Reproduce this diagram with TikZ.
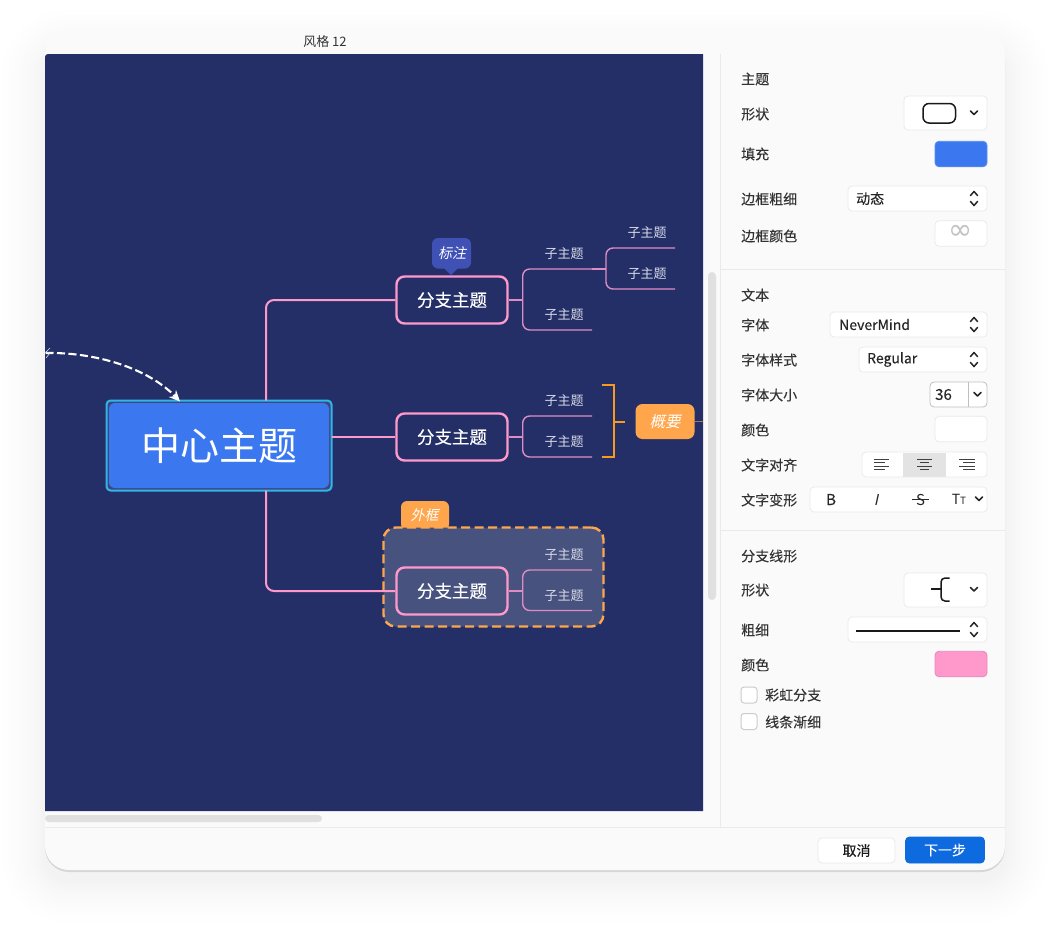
\documentclass[tikz,border=0pt]{standalone}
\usepackage{fontspec}
\setmainfont{Noto Sans CJK SC}
\newfontfamily\slantfont[FakeSlant=0.22]{Noto Sans CJK SC}
\newfontfamily\medfont[FakeBold=0.35]{Noto Sans CJK SC}
\newfontfamily\labfont[FakeBold=0.12]{Noto Sans CJK SC}
\newfontfamily\symfont{DejaVu Sans}
\usetikzlibrary{arrows.meta}

\definecolor{canvasbg}{HTML}{232F66}
\definecolor{panelbg}{HTML}{FAFAFA}
\definecolor{rule}{HTML}{EAEAEA}
\definecolor{thumb}{HTML}{E0E0E0}
\definecolor{ink}{HTML}{333333}
\definecolor{topicblue}{HTML}{3B78F0}
\definecolor{pinkline}{HTML}{FF99CC}
\definecolor{subpink}{HTML}{E08CC4}
\definecolor{selblue}{HTML}{2FB5EE}
\definecolor{orangeA}{HTML}{FFA64D}
\definecolor{orangeB}{HTML}{F79A1E}
\definecolor{calloutbg}{HTML}{3F51B5}
\definecolor{boundbg}{HTML}{47527F}
\definecolor{leafink}{HTML}{D9DBE8}
\definecolor{nextblue}{HTML}{0E6ADF}

\newcommand{\fs}[1]{\fontsize{#1}{#1}\selectfont}

\tikzset{
  central/.style={rectangle, rounded corners=6pt, fill=topicblue, text=white, minimum width=220pt, minimum height=85pt, inner sep=0pt, outer sep=0pt, font=\fs{39}},
  centralsel/.style={rectangle, rounded corners=4pt, draw=selblue, line width=2pt, fill=canvasbg!88!white, minimum width=225pt, minimum height=90pt, inner sep=0pt, outer sep=0pt},
  branch/.style={rectangle, rounded corners=8pt, draw=pinkline, line width=2.4pt, fill=canvasbg, text=white, minimum width=111pt, minimum height=47pt, inner sep=0pt, outer sep=1.2pt, font=\medfont\fs{17.5}},
  leaf/.style={rectangle, text=leafink, minimum width=56pt, minimum height=30pt, inner sep=0pt, outer sep=0pt, font=\fs{13}},
  bline/.style={pinkline, line width=2pt, rounded corners=8pt},
  sline/.style={subpink, line width=1.4pt, rounded corners=7pt},
  tag/.style={text=white, inner sep=0pt, font=\slantfont\fs{14}},
  lab/.style={anchor=west, text=ink, inner sep=0pt, font=\labfont\fs{14}},
  ctrl/.style={rectangle, rounded corners=4pt, draw=rule, line width=.8pt, fill=white, inner sep=0pt, outer sep=0pt, text=black!85, font=\labfont\fs{14}},
  swatch/.style={ctrl, minimum width=52pt, minimum height=25.5pt},
  tick/.style={draw=black!85, line width=1.5pt, line cap=round, line join=round},
  chevdown/.pic={\draw [tick] (-3.5,-2) -- (0,1.5) -- (3.5,-2);},
  updown/.pic={
    \draw [tick] (-3.5,-3) -- (0,-7) -- (3.5,-3);
    \draw [tick] (-3.5,3) -- (0,7) -- (3.5,3);
  },
}

\begin{document}
\begin{tikzpicture}[x=1pt, y=-1pt]
\useasboundingbox (0,0) rectangle (1050,930);
\fill [white] (0,0) rectangle (1050,930);

% soft shadow round the window
\foreach \r in {2,4,6,9,12,15,19,23,27,32,37,43} {
  \fill [black, opacity=.0045, rounded corners=24+\r] (45-\r,52-\r) rectangle (1005+\r,880+\r);
}

% window
\fill [black!16, rounded corners=24pt] (45,34) rectangle (1005,872);
\fill [panelbg, rounded corners=24pt] (45,30) rectangle (1005,870);
\fill [canvasbg] (45,811) [rounded corners=3pt] -- (45,54) [sharp corners] -- (703,54) -- (703,811) -- cycle;
\fill [thumb, rounded corners=3.5pt] (45,815) rectangle (322,822);
\fill [thumb, rounded corners=4pt] (708,272) rectangle (716,600);
\draw [rule, line width=1pt] (45,827) -- (1005,827);
\draw [rule, line width=1pt] (720,54) -- (720,827);
\draw [rule, line width=1pt] (720,269) -- (1005,269);
\draw [rule, line width=1pt] (720,530) -- (1005,530);

\node [text=ink, inner sep=0pt, font=\fs{13}] (title) at (325,42) {风格 12};

% boundary behind the third branch
\fill [orangeA, rounded corners=6pt] (401,530) -- (401,501) -- (449,501) -- (449,530) -- cycle;
\node [tag] (boundtag) at (424.5,515) {外框};
\node [rectangle, rounded corners=12pt, draw=orangeA, line width=2.4pt, dash pattern=on 9pt off 4.5pt, fill=boundbg, minimum width=220pt, minimum height=99pt, inner sep=0pt] (bound) at (493.5,577) {};

% topics
\node [centralsel] (centralSel) at (219,445.5) {};
\node [central] (centre) at (219,445.5) {中心主题};
\node [branch] (branchA) at (452,300) {分支主题};
\node [branch] (branchB) at (452,437) {分支主题};
\node [branch, fill=boundbg] (branchC) at (452,591) {分支主题};

\node [leaf] (leafA) at (564,254) {子主题};
\node [leaf] (leafB) at (564,315) {子主题};
\node [leaf] (leafAa) at (647,233) {子主题};
\node [leaf] (leafAb) at (647,274) {子主题};
\node [leaf] (leafC) at (564,401) {子主题};
\node [leaf] (leafD) at (564,442) {子主题};
\node [leaf] (leafE) at (564,555) {子主题};
\node [leaf] (leafF) at (564,595.5) {子主题};

% connectors
\draw [bline] ([xshift=47pt]centralSel.north) |- (branchA.west);
\draw [bline] (centralSel.east |- branchB.west) -- (branchB.west);
\draw [bline] ([xshift=47pt]centralSel.south) |- (branchC.west);

\coordinate (forkA) at ([xshift=14pt]branchA.east);
\coordinate (forkB) at ([xshift=14pt]branchB.east);
\coordinate (forkC) at ([xshift=14pt]branchC.east);
\coordinate (forkD) at ([xshift=14pt]leafA.south east);

\draw [sline] (branchA.east) -- (forkA);
\draw [sline] (leafA.south east) -| (forkA) |- (leafB.south east);
\draw [sline] (leafA.south east) -- (forkD);
\draw [sline] (leafAa.south east) -| (forkD) |- (leafAb.south east);

\draw [sline] (branchB.east) -- (forkB);
\draw [sline] (leafC.south east) -| (forkB) |- (leafD.south east);

\draw [sline] (branchC.east) -- (forkC);
\draw [sline] (leafE.south east) -| (forkC) |- (leafF.south east);

% callout
\fill [calloutbg, rounded corners=6pt] (432,238) rectangle (471,268.5);
\fill [calloutbg] (444,268) -- (451,275) -- (458,268) -- cycle;
\node [tag] (callout) at (452,253) {标注};

% summary
\node [rectangle, rounded corners=7pt, fill=orangeA, minimum width=59pt, minimum height=35pt, inner sep=0pt, outer sep=0pt, text=white, font=\slantfont\fs{15.5}] (summary) at (665,421.5) {概要};
\coordinate (summaryEnd) at (703,421.5);
\draw [orangeA!60!canvasbg, line width=1.4pt] (summary.east) -- (summaryEnd);
\coordinate (braceMid) at (625,421.5);
\draw [orangeB, line width=2pt] (602,384.5) -- (613.5,384.5) -- (613.5,457) -- (602,457);
\draw [orangeB, line width=2pt] (613.5,421.5) -- (braceMid);

% relation
\coordinate (relStart) at (45.5,353);
\draw [white, line width=2.1pt, dash pattern=on 8pt off 3.5pt, -{Stealth[length=11pt, width=10pt]}] (relStart) .. controls (95,352) and (148,368) .. ([xshift=-39pt,yshift=-1pt]centralSel.north);
\draw [white!85!canvasbg, line width=.6pt] (50,348) -- (46,352) -- (50,353) -- (46,358);

% panel: topic
\node [lab] (hTopic) at (741,79) {主题};
\node [lab] (lShape) at (741,114) {形状};
\node [ctrl, minimum width=83pt, minimum height=34pt] (shapeBox) at (945.5,113) {};
\draw [black!90, line width=1.5pt, rounded corners=6pt] (923,103.5) rectangle (955.5,123);
\pic at (974,113) {chevdown};

\node [lab] (lFill) at (741,154) {填充};
\node [swatch, fill=topicblue, draw=topicblue!85!white] (fillBox) at (961,154) {};

\node [lab] (lWidth) at (741,199) {边框粗细};
\node [ctrl, minimum width=139pt, minimum height=25pt] (widthBox) at (917.5,198.5) {};
\node [lab, text=black!85] (widthTxt) at (856,198.5) {动态};
\pic at (974,198.5) {updown};

\node [lab] (lBorder) at (741,236) {边框颜色};
\node [swatch] (borderBox) at (961,233.5) {};
\node [text=black!24, inner sep=0pt, font=\symfont\fs{29}] (borderInf) at (961,232) {∞};

% panel: text
\node [lab] (hText) at (741,295) {文本};
\node [lab] (lFont) at (741,325) {字体};
\node [ctrl, minimum width=157pt, minimum height=25pt] (fontBox) at (908.5,324.5) {};
\node [lab, text=black!85] (fontTxt) at (839,324.5) {NeverMind};
\pic at (974,324.5) {updown};

\node [lab] (lStyle) at (741,360) {字体样式};
\node [ctrl, minimum width=128pt, minimum height=25pt] (styleBox) at (923,359.5) {};
\node [lab, text=black!85] (styleTxt) at (867,359.5) {Regular};
\pic at (974,359.5) {updown};

\node [lab] (lSize) at (741,395) {字体大小};
\node [ctrl, draw=black!25, minimum width=57pt, minimum height=25pt] (sizeBox) at (958.5,394.5) {};
\draw [black!25, line width=.8pt] (968,382) -- (968,407);
\node [lab, text=black!85, font=\labfont\fs{15}] (sizeTxt) at (935,394.5) {36};
\pic at (977.5,394.5) {chevdown};

\node [lab] (lColor) at (741,430) {颜色};
\node [swatch] (colorBox) at (961,429) {};

\node [lab] (lAlign) at (741,465) {文字对齐};
\node [ctrl, minimum width=125pt, minimum height=25pt] (alignBox) at (924.5,464.5) {};
\fill [black!11] (903,452.5) rectangle (946,477);
\foreach \xa/\xb/\xc/\xd in {874/889/874/885, 917/932/920/929, 959/975/963/975} {
  \draw [black!75, line width=.9pt] (\xa,459) -- (\xb,459) (\xc,462.5) -- (\xd,462.5);
  \draw [black!75, line width=.9pt] (\xa,466) -- (\xb,466) (\xc,469.5) -- (\xd,469.5);
}

\node [lab] (lCase) at (741,500) {文字变形};
\node [ctrl, minimum width=177pt, minimum height=25pt] (caseBox) at (898.5,499.5) {};
\node [text=black!85, inner sep=0pt, font=\medfont\fs{15}] (caseB) at (831,499.5) {B};
\node [text=black!85, inner sep=0pt, font=\slantfont\fs{15}] (caseI) at (876,499.5) {I};
\node [text=black!85, inner sep=0pt, font=\fs{15}] (caseS) at (920.5,499.5) {S};
\draw [black!85, line width=1pt] (912,499.5) -- (929,499.5);
\node [text=black!85, inner sep=0pt, font=\fs{14}] (caseT) at (959,499.5) {T\fs{10}T};
\pic at (979,499) {chevdown};

% panel: branch line
\node [lab] (hLine) at (741,556) {分支线形};
\node [lab] (lLine) at (741,590) {形状};
\node [ctrl, minimum width=83pt, minimum height=34pt] (lineBox) at (945.5,590) {};
\draw [black!90, line width=1.5pt] (931,589) -- (941,589);
\draw [black!90, line width=1.5pt, rounded corners=4pt] (949.5,578) -- (941,578) -- (941,601) -- (949.5,601);
\pic at (974,589.5) {chevdown};

\node [lab] (lThick) at (741,630) {粗细};
\node [ctrl, minimum width=139pt, minimum height=25pt] (thickBox) at (917.5,629.5) {};
\draw [black!90, line width=1.6pt] (856,631) -- (960,631);
\pic at (974,629.5) {updown};

\node [lab] (lPink) at (741,665) {颜色};
\node [swatch, fill=pinkline, draw=pinkline!90!black] (pinkBox) at (961,664) {};

\node [ctrl, draw=black!20, line width=1pt, rounded corners=3pt, minimum width=16pt, minimum height=16pt] (checkA) at (749,695) {};
\node [lab, anchor=west] (lRainbow) at (765,695) {彩虹分支};
\node [ctrl, draw=black!20, line width=1pt, rounded corners=3pt, minimum width=16pt, minimum height=16pt] (checkB) at (749,721.5) {};
\node [lab, anchor=west] (lTaper) at (765,722) {线条渐细};

% footer buttons
\node [ctrl, minimum width=77pt, minimum height=25pt, text=black!90] (btnCancel) at (856.5,850.5) {取消};
\node [ctrl, draw=nextblue, fill=nextblue, text=white, minimum width=79pt, minimum height=26pt] (btnNext) at (945,850) {下一步};

\end{tikzpicture}
\end{document}
